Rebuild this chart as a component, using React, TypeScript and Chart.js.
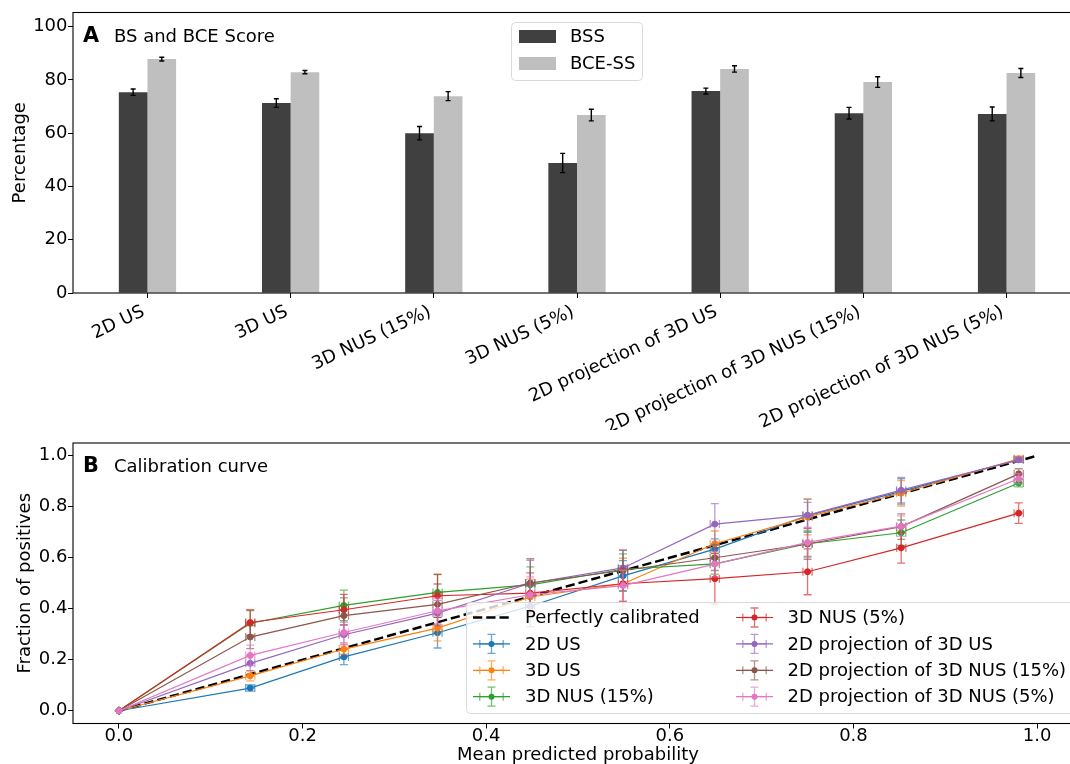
import React, { useEffect, useRef } from 'react';
import { Chart, registerables } from 'chart.js';

Chart.register(...registerables);

// ---------- Panel A data ----------
const categories = [
  '2D US',
  '3D US',
  '3D NUS (15%)',
  '3D NUS (5%)',
  '2D projection of 3D US',
  '2D projection of 3D NUS (15%)',
  '2D projection of 3D NUS (5%)',
];
const bssValues = [75.4, 71.3, 60.0, 48.8, 75.8, 67.5, 67.2];
const bssErrors = [1.2, 1.6, 2.5, 3.6, 1.1, 2.2, 2.6];
const bceValues = [87.8, 82.9, 73.9, 66.8, 84.1, 79.2, 82.6];
const bceErrors = [0.7, 0.6, 1.7, 2.2, 1.2, 2.0, 1.7];
const percentTicks = [0, 20, 40, 60, 80, 100];

// ---------- Panel B data ----------
const meanPredicted = [0, 0.143, 0.245, 0.347, 0.448, 0.549, 0.649, 0.75, 0.852, 0.98];
const meanPredictedErr = [0, 0.005, 0.005, 0.005, 0.005, 0.005, 0.005, 0.005, 0.005, 0.005];
const perfectX = [0, 1];
const perfectY = [0, 1];
const probTicks = [0, 0.2, 0.4, 0.6, 0.8, 1.0];

const seriesNames = [
  '2D US',
  '3D US',
  '3D NUS (15%)',
  '3D NUS (5%)',
  '2D projection of 3D US',
  '2D projection of 3D NUS (15%)',
  '2D projection of 3D NUS (5%)',
];
const fracUS2D = [0, 0.089, 0.211, 0.306, 0.41, 0.529, 0.634, 0.765, 0.86, 0.985];
const fracUS3D = [0, 0.137, 0.242, 0.324, 0.446, 0.498, 0.655, 0.76, 0.853, 0.988];
const fracNUS15 = [0, 0.343, 0.413, 0.464, 0.494, 0.555, 0.576, 0.655, 0.698, 0.893];
const fracNUS5 = [0, 0.346, 0.396, 0.451, 0.461, 0.498, 0.518, 0.545, 0.639, 0.775];
const fracProjUS = [0, 0.186, 0.298, 0.383, 0.5, 0.56, 0.732, 0.767, 0.865, 0.984];
const fracProjNUS15 = [0, 0.289, 0.373, 0.417, 0.501, 0.55, 0.6, 0.654, 0.722, 0.929];
const fracProjNUS5 = [0, 0.217, 0.307, 0.392, 0.455, 0.491, 0.575, 0.66, 0.724, 0.91];

const errUS2D = [0, 0.012, 0.03, 0.06, 0.08, 0.06, 0.04, 0.065, 0.05, 0.01];
const errUS3D = [0, 0.02, 0.02, 0.05, 0.07, 0.1, 0.05, 0.07, 0.05, 0.01];
const errNUS15 = [0, 0.05, 0.06, 0.07, 0.07, 0.06, 0.04, 0.05, 0.05, 0.015];
const errNUS5 = [0, 0.05, 0.06, 0.085, 0.08, 0.07, 0.1, 0.09, 0.06, 0.04];
const errProjUS = [0, 0.03, 0.04, 0.05, 0.09, 0.07, 0.08, 0.05, 0.05, 0.01];
const errProjNUS15 = [0, 0.045, 0.07, 0.08, 0.095, 0.08, 0.05, 0.06, 0.05, 0.02];
const errProjNUS5 = [0, 0.04, 0.04, 0.05, 0.07, 0.06, 0.05, 0.06, 0.04, 0.02];

const seriesFracs = [fracUS2D, fracUS3D, fracNUS15, fracNUS5, fracProjUS, fracProjNUS15, fracProjNUS5];
const seriesErrs = [errUS2D, errUS3D, errNUS15, errNUS5, errProjUS, errProjNUS15, errProjNUS5];
const seriesColors = ['#1f77b4', '#ff7f0e', '#2ca02c', '#d62728', '#9467bd', '#8c564b', '#e377c2'];

// ---------- style ----------
const FONT = "'DejaVu Sans', sans-serif";
const FS = 18;
const W = 1090;
const TOP_H = 430;
const BOT_TOP = 420;
const BOT_H = 350;
const LABEL_ROT = 25;

function rgba(hex: string, a: number) {
  const n = parseInt(hex.slice(1), 16);
  return `rgba(${(n >> 16) & 255},${(n >> 8) & 255},${n & 255},${a})`;
}

function roundRect(ctx: CanvasRenderingContext2D, x: number, y: number, w: number, h: number, r: number) {
  ctx.beginPath();
  ctx.moveTo(x + r, y);
  ctx.lineTo(x + w - r, y);
  ctx.quadraticCurveTo(x + w, y, x + w, y + r);
  ctx.lineTo(x + w, y + h - r);
  ctx.quadraticCurveTo(x + w, y + h, x + w - r, y + h);
  ctx.lineTo(x + r, y + h);
  ctx.quadraticCurveTo(x, y + h, x, y + h - r);
  ctx.lineTo(x, y + r);
  ctx.quadraticCurveTo(x, y, x + r, y);
  ctx.closePath();
}

const framePlugin = {
  id: 'frame',
  afterDraw(chart: any) {
    const { ctx, chartArea: a } = chart;
    ctx.save();
    ctx.strokeStyle = '#000';
    ctx.lineWidth = 1.1;
    ctx.strokeRect(a.left, a.top, a.right - a.left, a.bottom - a.top);
    ctx.restore();
  },
};

function panelLabelPlugin(letter: string, text: string, baseline: number) {
  return {
    id: 'panelLabel' + letter,
    afterDraw(chart: any) {
      const ctx = chart.ctx;
      ctx.save();
      ctx.fillStyle = '#000';
      ctx.textBaseline = 'alphabetic';
      ctx.textAlign = 'left';
      ctx.font = `bold 20.8px ${FONT}`;
      ctx.fillText(letter, 83, baseline);
      ctx.font = `${FS}px ${FONT}`;
      ctx.fillText(text, 114, baseline);
      ctx.restore();
    },
  };
}

// rotated category labels, matplotlib-style (bbox top-right anchored at the tick)
const rotatedLabelsPlugin = {
  id: 'rotLabels',
  afterDraw(chart: any) {
    const ctx = chart.ctx;
    const xs = chart.scales.x;
    const th = (LABEL_ROT * Math.PI) / 180;
    const h = FS * 1.0;
    const topY = chart.chartArea.bottom + 9.8;
    ctx.save();
    ctx.fillStyle = '#000';
    ctx.font = `${FS}px ${FONT}`;
    ctx.textAlign = 'right';
    ctx.textBaseline = 'alphabetic';
    categories.forEach((lab, i) => {
      const px = xs.getPixelForValue(i);
      ctx.save();
      ctx.translate(px - h * Math.sin(th), topY);
      ctx.rotate(-th);
      ctx.fillText(lab, 0, FS * 0.76);
      ctx.restore();
    });
    ctx.restore();
  },
};

const barErrPlugin = {
  id: 'barErr',
  afterDatasetsDraw(chart: any) {
    const ctx = chart.ctx;
    const ys = chart.scales.y;
    ctx.save();
    ctx.strokeStyle = '#000';
    ctx.lineWidth = 1.4;
    chart.data.datasets.forEach((ds: any, di: number) => {
      const meta = chart.getDatasetMeta(di);
      meta.data.forEach((el: any, i: number) => {
        const v = ds.data[i].y;
        const e = ds.errors[i];
        const x = el.x;
        const y1 = ys.getPixelForValue(v - e);
        const y2 = ys.getPixelForValue(v + e);
        ctx.beginPath();
        ctx.moveTo(x, y1);
        ctx.lineTo(x, y2);
        ctx.moveTo(x - 2.5, y1);
        ctx.lineTo(x + 2.5, y1);
        ctx.moveTo(x - 2.5, y2);
        ctx.lineTo(x + 2.5, y2);
        ctx.stroke();
      });
    });
    ctx.restore();
  },
};

const barLegendPlugin = {
  id: 'barLegend',
  afterDraw(chart: any) {
    const ctx = chart.ctx;
    ctx.save();
    roundRect(ctx, 511.5, 22.5, 131, 58, 4);
    ctx.fillStyle = 'rgba(255,255,255,0.8)';
    ctx.fill();
    ctx.strokeStyle = '#d9d9d9';
    ctx.lineWidth = 1;
    ctx.stroke();
    const items = chart.data.datasets;
    items.forEach((ds: any, i: number) => {
      const cy = 36.5 + i * 27;
      ctx.fillStyle = ds.backgroundColor;
      ctx.fillRect(519, cy - 6.5, 37, 13);
      ctx.fillStyle = '#000';
      ctx.font = `${FS}px ${FONT}`;
      ctx.textBaseline = 'middle';
      ctx.textAlign = 'left';
      ctx.fillText(ds.label, 570, cy + 1);
    });
    ctx.restore();
  },
};

function drawErrCross(ctx: CanvasRenderingContext2D, px: number, py: number, x1: number, x2: number, y1: number, y2: number) {
  const cap = 4;
  ctx.beginPath();
  ctx.moveTo(px, y1);
  ctx.lineTo(px, y2);
  ctx.moveTo(px - cap, y1);
  ctx.lineTo(px + cap, y1);
  ctx.moveTo(px - cap, y2);
  ctx.lineTo(px + cap, y2);
  ctx.moveTo(x1, py);
  ctx.lineTo(x2, py);
  ctx.moveTo(x1, py - cap);
  ctx.lineTo(x1, py + cap);
  ctx.moveTo(x2, py - cap);
  ctx.lineTo(x2, py + cap);
  ctx.stroke();
}

const calErrPlugin = {
  id: 'calErr',
  afterDatasetDraw(chart: any, args: any) {
    const ds: any = chart.data.datasets[args.index];
    if (!ds.yErr) return;
    const xs = chart.scales.x;
    const ys = chart.scales.y;
    const ctx = chart.ctx;
    ctx.save();
    const a = chart.chartArea;
    ctx.beginPath();
    ctx.rect(a.left, a.top, a.right - a.left, a.bottom - a.top);
    ctx.clip();
    ctx.strokeStyle = rgba(ds.baseColor, 0.65);
    ctx.lineWidth = 1.3;
    ds.data.forEach((p: any, i: number) => {
      const ex = ds.xErr[i];
      const ey = ds.yErr[i];
      drawErrCross(
        ctx,
        xs.getPixelForValue(p.x),
        ys.getPixelForValue(p.y),
        xs.getPixelForValue(p.x - ex),
        xs.getPixelForValue(p.x + ex),
        ys.getPixelForValue(p.y - ey),
        ys.getPixelForValue(p.y + ey)
      );
    });
    ctx.restore();
  },
};

const calLegendPlugin = {
  id: 'calLegend',
  afterDraw(chart: any) {
    const ctx = chart.ctx;
    const oy = -BOT_TOP;
    ctx.save();
    roundRect(ctx, 466.5, 602.5 + oy, 612, 111, 4);
    ctx.fillStyle = 'rgba(255,255,255,0.8)';
    ctx.fill();
    ctx.strokeStyle = '#d9d9d9';
    ctx.lineWidth = 1;
    ctx.stroke();
    const ds = chart.data.datasets;
    ds.forEach((d: any, i: number) => {
      const col = i < 4 ? 0 : 1;
      const row = i % 4;
      const cy = 617.5 + oy + row * 26.4;
      const hx0 = col === 0 ? 473 : 736;
      const hx1 = hx0 + 37;
      const cx = (hx0 + hx1) / 2;
      const tx = col === 0 ? 525 : 787.5;
      if (!d.yErr) {
        ctx.strokeStyle = '#000';
        ctx.lineWidth = 2.5;
        ctx.setLineDash([9.25, 4]);
        ctx.beginPath();
        ctx.moveTo(hx0, cy);
        ctx.lineTo(hx1, cy);
        ctx.stroke();
        ctx.setLineDash([]);
      } else {
        ctx.strokeStyle = d.baseColor;
        ctx.lineWidth = 1.2;
        ctx.beginPath();
        ctx.moveTo(hx0, cy);
        ctx.lineTo(hx1, cy);
        ctx.stroke();
        ctx.strokeStyle = rgba(d.baseColor, 0.65);
        ctx.lineWidth = 1.3;
        drawErrCross(ctx, cx, cy, cx - 11.7, cx + 11.7, cy + 9.5, cy - 9.5);
        ctx.fillStyle = d.baseColor;
        ctx.beginPath();
        ctx.arc(cx, cy, 3, 0, Math.PI * 2);
        ctx.fill();
      }
      ctx.fillStyle = '#000';
      ctx.font = `${FS}px ${FONT}`;
      ctx.textBaseline = 'middle';
      ctx.textAlign = 'left';
      ctx.fillText(d.label, tx, cy + 1);
    });
    ctx.restore();
  },
};

const tickFont = { family: FONT, size: FS };

function topConfig(): any {
  return {
    type: 'bar',
    data: {
      datasets: [
        {
          label: 'BSS',
          data: bssValues.map((v, i) => ({ x: i, y: v })),
          errors: bssErrors,
          backgroundColor: '#404040',
          borderWidth: 0,
          categoryPercentage: 0.4,
          barPercentage: 1,
        },
        {
          label: 'BCE-SS',
          data: bceValues.map((v, i) => ({ x: i, y: v })),
          errors: bceErrors,
          backgroundColor: '#bfbfbf',
          borderWidth: 0,
          categoryPercentage: 0.4,
          barPercentage: 1,
        },
      ],
    },
    options: {
      animation: false,
      responsive: false,
      devicePixelRatio: 1,
      layout: { padding: { top: 12.5, right: 9, left: 0, bottom: 0 } },
      plugins: { legend: { display: false }, tooltip: { enabled: false } },
      scales: {
        x: {
          type: 'linear',
          min: -0.52,
          max: 6.52,
          offset: false,
          afterBuildTicks: (s: any) => {
            s.ticks = categories.map((_, i) => ({ value: i }));
          },
          afterFit: (s: any) => {
            s.height = TOP_H - 293;
          },
          ticks: {
            display: false,
            autoSkip: false,
            callback: (v: any) => categories[Math.round(v)] ?? '',
          },
          grid: { offset: false, drawOnChartArea: false, drawTicks: true, tickLength: 5, color: '#000', lineWidth: 1 },
          border: { display: false },
        },
        y: {
          min: 0,
          max: 105.3,
          afterBuildTicks: (s: any) => {
            s.ticks = percentTicks.map((v) => ({ value: v }));
          },
          afterFit: (s: any) => {
            s.width = 73;
          },
          title: {
            display: true,
            text: 'Percentage',
            color: '#000',
            font: { family: FONT, size: FS },
            padding: { top: 9.5, bottom: 0 },
          },
          ticks: { color: '#000', font: tickFont, padding: 0.5 },
          grid: { drawOnChartArea: false, drawTicks: true, tickLength: 5, color: '#000', lineWidth: 1 },
          border: { display: false },
        },
      },
    },
    plugins: [barErrPlugin, framePlugin, barLegendPlugin, rotatedLabelsPlugin, panelLabelPlugin('A', 'BS and BCE Score', 42)],
  };
}

function bottomConfig(): any {
  const n = seriesNames.length;
  const datasets: any[] = [
    {
      label: 'Perfectly calibrated',
      data: perfectX.map((x, i) => ({ x, y: perfectY[i] })),
      borderColor: '#000',
      borderWidth: 2.5,
      borderDash: [9.25, 4],
      pointRadius: 0,
      fill: false,
      order: n + 1,
    },
  ];
  seriesNames.forEach((name, si) => {
    const c = seriesColors[si];
    datasets.push({
      label: name,
      data: meanPredicted.map((x, i) => ({ x, y: seriesFracs[si][i] })),
      baseColor: c,
      xErr: meanPredictedErr,
      yErr: seriesErrs[si],
      borderColor: c,
      backgroundColor: c,
      borderWidth: 1.2,
      pointRadius: 3,
      pointBorderWidth: 1,
      pointBackgroundColor: c,
      pointBorderColor: c,
      fill: false,
      tension: 0,
      order: n - si,
    });
  });
  return {
    type: 'line',
    data: { datasets },
    options: {
      animation: false,
      responsive: false,
      devicePixelRatio: 1,
      layout: { padding: { top: 443 - BOT_TOP, right: W - 1083, left: 0, bottom: 0 } },
      plugins: { legend: { display: false }, tooltip: { enabled: false } },
      scales: {
        x: {
          type: 'linear',
          min: -0.05,
          max: 1.05,
          afterBuildTicks: (s: any) => {
            s.ticks = probTicks.map((v) => ({ value: v }));
          },
          afterFit: (s: any) => {
            s.height = BOT_H - (723.5 - BOT_TOP);
          },
          title: {
            display: true,
            text: 'Mean predicted probability',
            color: '#000',
            font: { family: FONT, size: FS },
            padding: { top: 0, bottom: 3.5 },
          },
          ticks: {
            color: '#000',
            font: tickFont,
            padding: -3,
            maxRotation: 0,
            callback: (v: any) => Number(v).toFixed(1),
          },
          grid: { drawOnChartArea: false, drawTicks: true, tickLength: 5, color: '#000', lineWidth: 1 },
          border: { display: false },
        },
        y: {
          min: -0.05,
          max: 1.05,
          afterBuildTicks: (s: any) => {
            s.ticks = probTicks.map((v) => ({ value: v }));
          },
          afterFit: (s: any) => {
            s.width = 73;
          },
          title: {
            display: true,
            text: 'Fraction of positives',
            color: '#000',
            font: { family: FONT, size: FS },
            padding: { top: 14.5, bottom: 0 },
          },
          ticks: {
            color: '#000',
            font: tickFont,
            padding: 0.5,
            callback: (v: any) => Number(v).toFixed(1),
          },
          grid: { drawOnChartArea: false, drawTicks: true, tickLength: 5, color: '#000', lineWidth: 1 },
          border: { display: false },
        },
      },
    },
    plugins: [calErrPlugin, framePlugin, calLegendPlugin, panelLabelPlugin('B', 'Calibration curve', 471.7 - BOT_TOP)],
  };
}

export default function App() {
  const topRef = useRef<HTMLCanvasElement>(null);
  const botRef = useRef<HTMLCanvasElement>(null);
  useEffect(() => {
    document.body.style.margin = '0';
    document.body.style.overflow = 'hidden';
    const c1 = new Chart(topRef.current as HTMLCanvasElement, topConfig());
    const c2 = new Chart(botRef.current as HTMLCanvasElement, bottomConfig());
    return () => {
      c1.destroy();
      c2.destroy();
    };
  }, []);
  return (
    <div style={{ position: 'relative', width: 1070, height: 764, overflow: 'hidden', background: '#fff' }}>
      <canvas
        ref={topRef}
        width={W}
        height={TOP_H}
        style={{ position: 'absolute', left: 0, top: 0, width: W, height: TOP_H }}
      />
      <canvas
        ref={botRef}
        width={W}
        height={BOT_H}
        style={{ position: 'absolute', left: 0, top: BOT_TOP, width: W, height: BOT_H }}
      />
    </div>
  );
}
